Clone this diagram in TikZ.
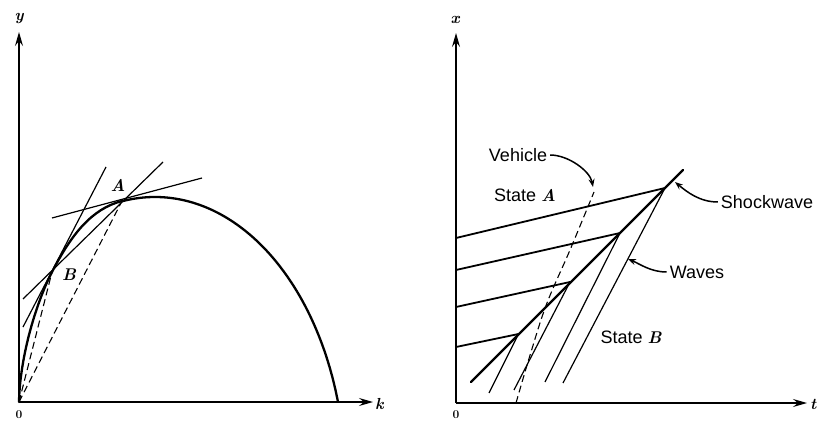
\documentclass[tikz,border=0pt]{standalone}
\usepackage{fontspec}
\setsansfont{Liberation Sans}
\usetikzlibrary{arrows.meta}
\begin{document}
\begin{tikzpicture}[x=1pt,y=-1pt,
  axis/.style={line width=1.5pt,-{Stealth[length=14pt,width=8pt,inset=5pt]}},
  heavy/.style={line width=2.3pt,line cap=round,line join=round},
  thinline/.style={line width=1.2pt},
  medline/.style={line width=1.8pt},
  dashline/.style={line width=1.1pt,dash pattern=on 7pt off 4pt},
  lbl/.style={font=\sffamily\fontsize{18}{20}\selectfont,inner sep=0pt},
  mlbl/.style={font=\fontsize{17}{19}\selectfont\bfseries\itshape,inner sep=0pt},
  axlbl/.style={font=\fontsize{16}{18}\selectfont\bfseries\itshape,inner sep=0pt},
  zlbl/.style={font=\fontsize{12}{14}\selectfont\bfseries,inner sep=0pt,anchor=north},
  pointer/.style={line width=1.5pt,-{Stealth[length=8pt,width=6pt]}}
]
\fill[white] (0,0) rectangle (817,422);
\useasboundingbox (0,0) rectangle (817,422);

% ---------- left panel ----------
\coordinate (O1) at (19,402);
\coordinate (Ytop) at (19,32);
\coordinate (Kend) at (373,402);
\draw[axis] (O1) -- (Ytop);
\draw[axis] (O1) -- (Kend);
\node[axlbl] (ylab) at (19,19) {y};
\node[axlbl,anchor=west] (klab) at (375,404) {k};
\node[zlbl] (zero1) at (19,410) {0};

\coordinate (A) at (122,201);
\coordinate (B) at (52,272);
\draw[heavy] (O1) .. controls (20,355) and (37,301) .. (B)
  .. controls (72,233.4) and (92,208.8) .. (A)
  -- plot[domain=122:338,samples=80] (\x,{480-283*sqrt(1-((\x-155)/190.4)^2)});

\coordinate (tA1) at (52,218);  \coordinate (tA2) at (202,178);
\coordinate (c1) at (23,299);   \coordinate (c2) at (163,162);
\coordinate (tB1) at (23,327);  \coordinate (tB2) at (106,167);
\draw[thinline] (tA1) -- (tA2);
\draw[thinline] (c1) -- (c2);
\draw[thinline] (tB1) -- (tB2);
\draw[dashline] (O1) -- (B);
\draw[dashline] (O1) -- (A);
\node[mlbl] (Alab) at (118,185) {A};
\node[mlbl] (Blab) at (69,275) {B};

% ---------- right panel ----------
\coordinate (O2) at (456,403);
\coordinate (Xtop) at (456,33);
\coordinate (Tend) at (807,403);
\draw[axis] (O2) -- (Xtop);
\draw[axis] (O2) -- (Tend);
\node[axlbl] (xlab) at (455,20) {x};
\node[axlbl,anchor=west] (tlab) at (810,404) {t};
\node[zlbl] (zero2) at (456,410) {0};

\coordinate (S1) at (665,188);
\coordinate (S2) at (620,233);
\coordinate (S3) at (570,282);
\coordinate (S4) at (518.5,334);
\coordinate (H1) at (456,238);
\coordinate (H2) at (456,270);
\coordinate (H3) at (456,307);
\coordinate (H4) at (456,347);
\draw[medline] (H1) -- (S1);
\draw[medline] (H2) -- (S2);
\draw[medline] (H3) -- (S3);
\draw[medline] (H4) -- (S4);

\coordinate (Sbot) at (471,382);
\coordinate (Stop) at (683,170);
\draw[heavy] (Sbot) -- (Stop);

\coordinate (W1) at (489,393);
\coordinate (W2) at (514,390);
\coordinate (W3) at (545,382);
\coordinate (W4) at (563,383);
\draw[thinline] (W1) -- (S4);
\draw[thinline] (W2) -- (S3);
\draw[thinline] (W3) -- (S2);
\draw[thinline] (W4) -- (S1);

\draw[dashline] plot[smooth,tension=0.6] coordinates {(516,403) (531,352) (547,303) (570,250) (594,192)};

\node[lbl] (veh) at (518,155) {Vehicle};
\node[lbl] (stA) at (525,195) {State {\fontsize{17}{19}\selectfont\rmfamily\bfseries\itshape A}};
\node[lbl] (shock) at (767,202) {Shockwave};
\node[lbl] (waves) at (697,272) {Waves};
\node[lbl] (stB) at (631,337) {State {\fontsize{17}{19}\selectfont\rmfamily\bfseries\itshape B}};

\coordinate (vtip) at (593,187);
\coordinate (stip) at (675,182);
\coordinate (wtip) at (628,259);
\draw[pointer] ([xshift=3pt]veh.east) .. controls +(18,0) and +(-3,-16) .. (vtip);
\draw[pointer] ([xshift=-3pt]shock.west) .. controls +(-18,0) and +(12,10) .. (stip);
\draw[pointer] ([xshift=-3pt]waves.west) .. controls +(-16,0) and +(12,5) .. (wtip);
\end{tikzpicture}
\end{document}
